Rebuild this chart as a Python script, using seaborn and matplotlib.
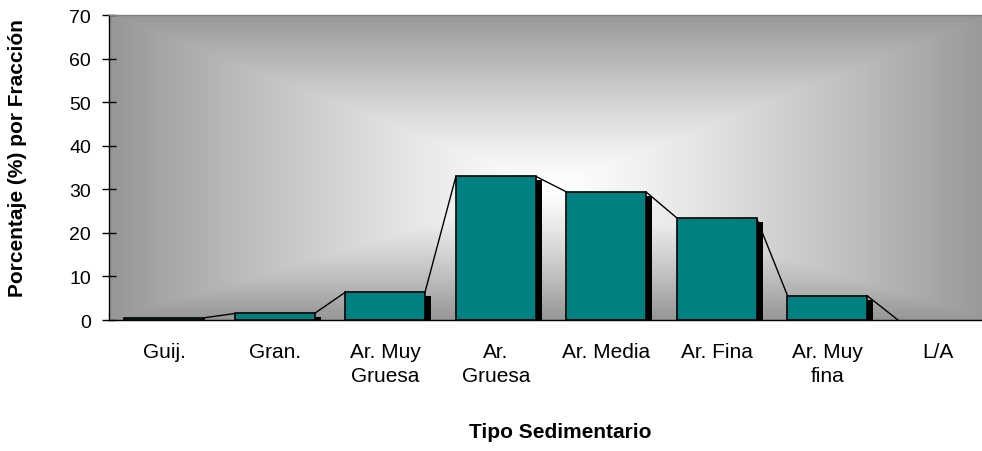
import numpy as np
import matplotlib
matplotlib.use("Agg")
import matplotlib.pyplot as plt
import matplotlib.transforms as mtransforms
from matplotlib.patches import Rectangle
import seaborn as sns

# Grain-size distribution by sediment class
categories = ["Guij.", "Gran.", "Ar. Muy\nGruesa", "Ar.\nGruesa",
              "Ar. Media", "Ar. Fina", "Ar. Muy\nfina", "L/A"]
percentages = [0.5, 1.5, 6.4, 33.0, 29.4, 23.4, 5.6, 0.0]
y_ticks = [0, 10, 20, 30, 40, 50, 60, 70]

sns.set_style("white")
plt.rcParams["font.family"] = ["Liberation Sans", "DejaVu Sans"]
plt.rcParams["text.color"] = "black"
plt.rcParams["axes.labelcolor"] = "black"
plt.rcParams["xtick.color"] = "black"
plt.rcParams["ytick.color"] = "black"

fig = plt.figure(figsize=(9.82, 4.52), dpi=100)
ax = fig.add_axes([0.1110, 0.2898, 0.9002, 0.6748])

# Rectangular "from centre" gray-white gradient behind the plot area
nx, ny = 900, 320
u = np.linspace(0, 1, nx)
v = np.linspace(1, 0, ny)
U, V = np.meshgrid(u, v)
cx, cy = 0.501, 0.43
tx = np.where(U < cx, (cx - U) / cx, (U - cx) / (1 - cx))
ty = np.where(V < cy, (cy - V) / cy, (V - cy) / (1 - cy))
t = np.clip(np.maximum(tx, ty), 0, 1) ** 1.25
edge = 150 / 255
shade = 1 - (1 - edge) * t
ax.imshow(np.dstack([shade, shade, shade]), extent=(0, 1, 0, 1),
          transform=ax.transAxes, aspect="auto", zorder=0.1,
          interpolation="bilinear")

sns.barplot(x=categories, y=percentages, color="#008080", saturation=1,
            width=0.72, edgecolor="black", linewidth=1.2, ax=ax, zorder=1)

bars = [p for p in ax.patches if isinstance(p, Rectangle)]

# Drop shadow to the lower right of each bar
shift = mtransforms.ScaledTranslation(6 / 100, -4 / 100, fig.dpi_scale_trans)
for p in bars:
    if p.get_height() <= 0:
        p.set_linewidth(0)
        continue
    sh = Rectangle((p.get_x(), p.get_y()), p.get_width(), p.get_height(),
                   transform=ax.transData + shift, facecolor="black",
                   edgecolor="none", zorder=0.5)
    ax.add_patch(sh)

# Series lines joining the top corners of neighbouring bars
for a, b in zip(bars[:-1], bars[1:]):
    ax.plot([a.get_x() + a.get_width(), b.get_x()],
            [a.get_height(), b.get_height()],
            color="black", linewidth=1.0, zorder=2)

ax.set_xlim(-0.5, len(categories) - 0.5)
ax.set_ylim(0, 70)
ax.set_yticks(y_ticks)
ax.set_xticks(range(len(categories)))
ax.set_xticklabels(categories, fontsize=15, linespacing=1.35)
ax.set_xticks(np.arange(-0.5, len(categories) + 0.5, 1), minor=True)
ax.tick_params(axis="x", which="major", length=0, pad=16)
ax.tick_params(axis="x", which="minor", direction="inout", length=12,
               width=1, color="black")
ax.tick_params(axis="y", which="major", direction="inout", length=10,
               width=1, color="black", labelsize=14, pad=8, left=True)

for side in ("left", "bottom"):
    ax.spines[side].set_color("black")
    ax.spines[side].set_linewidth(1.0)
for side in ("top", "right"):
    ax.spines[side].set_visible(True)
    ax.spines[side].set_color("#808080")
    ax.spines[side].set_linewidth(1.0)

ax.set_ylabel("Porcentaje (%) por Fracción", fontsize=15, fontweight="bold")
ax.yaxis.set_label_coords(-0.103, 0.533)
ax.yaxis.label.set_va("center")
ax.set_xlabel("Tipo Sedimentario", fontsize=15, fontweight="bold")
ax.xaxis.set_label_coords(0.511, -0.367)
ax.xaxis.label.set_va("center")

fig.savefig("out.png", dpi=100)
